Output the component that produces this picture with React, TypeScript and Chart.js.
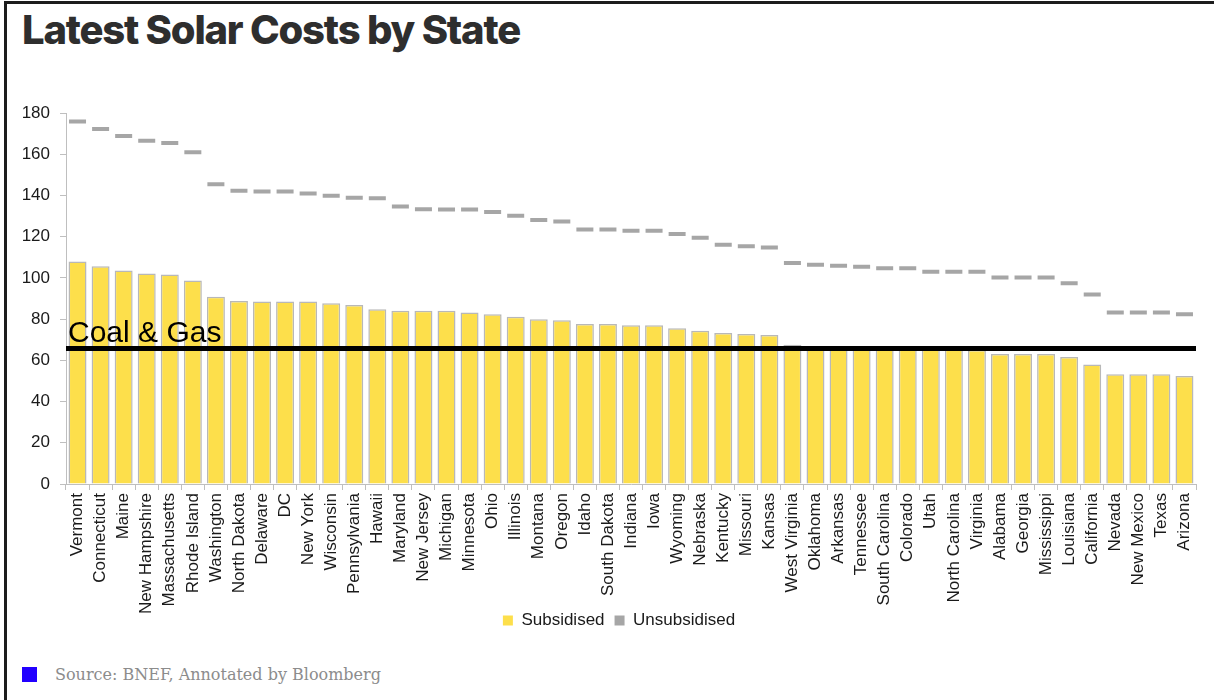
import React, { useEffect, useRef } from "react";
import { Chart, registerables } from "chart.js";

Chart.register(...registerables);

const TITLE = "Latest Solar Costs by State";
const SOURCE = "Source: BNEF, Annotated by Bloomberg";

const STATES = [
  "Vermont", "Connecticut", "Maine", "New Hampshire", "Massachusetts", "Rhode Island",
  "Washington", "North Dakota", "Delaware", "DC", "New York", "Wisconsin", "Pennsylvania",
  "Hawaii", "Maryland", "New Jersey", "Michigan", "Minnesota", "Ohio", "Illinois",
  "Montana", "Oregon", "Idaho", "South Dakota", "Indiana", "Iowa", "Wyoming", "Nebraska",
  "Kentucky", "Missouri", "Kansas", "West Virginia", "Oklahoma", "Arkansas", "Tennessee",
  "South Carolina", "Colorado", "Utah", "North Carolina", "Virginia", "Alabama", "Georgia",
  "Mississippi", "Louisiana", "California", "Nevada", "New Mexico", "Texas", "Arizona",
];

const SUBSIDISED = [
  108.0, 105.7, 103.6, 102.1, 101.6, 98.7,
  90.8, 88.8, 88.5, 88.5, 88.5, 87.7, 86.9,
  84.8, 84.0, 84.0, 84.0, 83.2, 82.4, 81.2,
  79.9, 79.4, 77.6, 77.6, 77.0, 77.0, 75.6, 74.4,
  73.3, 72.8, 72.3, 67.6, 67.0, 66.5, 66.3,
  66.0, 65.8, 65.5, 65.3, 65.0, 63.1, 63.1,
  63.1, 61.6, 58.0, 53.2, 53.2, 53.2, 52.4,
];

const UNSUBSIDISED = [
  175.9, 172.2, 168.8, 166.5, 165.4, 161.0,
  145.4, 142.3, 141.9, 141.9, 140.9, 139.8, 138.9,
  138.6, 134.6, 133.3, 133.2, 133.2, 132.0, 130.2,
  128.1, 127.3, 123.5, 123.5, 122.9, 122.9, 121.3, 119.5,
  116.1, 115.4, 114.8, 107.2, 106.4, 105.9, 105.4,
  104.7, 104.7, 103.0, 103.0, 103.0, 100.2, 100.2,
  100.2, 97.4, 91.9, 83.2, 83.2, 83.2, 82.3,
];

const COAL_GAS = [65.8];
const COAL_GAS_LABEL = "Coal & Gas";
const Y_TICKS = [0, 20, 40, 60, 80, 100, 120, 140, 160, 180];

const YELLOW = "#FDDF4B";
const GRAY = "#A6A6A6";
const FONT = "'Liberation Sans', Arial, sans-serif";

const coalGasPlugin = {
  id: "coalGas",
  afterUpdate(chart: any) {
    if (chart.legend) {
      chart.legend.left += 21;
      chart.legend.right += 21;
      chart.legend.top -= 13;
      chart.legend.bottom -= 13;
    }
  },
  afterDatasetsDraw(chart: any) {
    const { ctx, chartArea, scales } = chart;
    const y = scales.y.getPixelForValue(COAL_GAS[0]);
    ctx.save();
    ctx.strokeStyle = "#000000";
    ctx.lineWidth = 5;
    ctx.lineCap = "butt";
    ctx.beginPath();
    ctx.moveTo(chartArea.left, y);
    ctx.lineTo(chartArea.right, y);
    ctx.stroke();
    ctx.fillStyle = "#000000";
    ctx.font = `30px ${FONT}`;
    ctx.textAlign = "left";
    ctx.textBaseline = "alphabetic";
    ctx.fillText(COAL_GAS_LABEL, chartArea.left + 2, y - 6);
    ctx.restore();
  },
};

export default function App() {
  const canvasRef = useRef<HTMLCanvasElement | null>(null);

  useEffect(() => {
    document.body.style.margin = "0";
    const canvas = canvasRef.current;
    if (!canvas) return;
    const chart = new Chart(canvas, {
      type: "bar",
      data: {
        labels: STATES,
        datasets: [
          {
            type: "bar",
            label: "Subsidised",
            data: SUBSIDISED,
            backgroundColor: YELLOW,
            borderColor: "#B8B8B8",
            borderWidth: 1.5,
            barPercentage: 0.78,
            categoryPercentage: 1,
            order: 2,
          },
          {
            type: "line",
            label: "Unsubsidised",
            data: UNSUBSIDISED,
            showLine: false,
            pointStyle: "line",
            pointRadius: 8.5,
            pointHoverRadius: 8.5,
            pointBorderWidth: 4,
            pointBorderColor: GRAY,
            pointBackgroundColor: GRAY,
            borderColor: GRAY,
            backgroundColor: GRAY,
            order: 1,
          } as any,
        ],
      },
      options: {
        responsive: false,
        animation: false,
        maintainAspectRatio: false,
        layout: { padding: { top: 23, right: 18, left: 0, bottom: 3 } },
        plugins: {
          legend: {
            position: "bottom",
            labels: {
              boxWidth: 10,
              boxHeight: 10,
              padding: 10,
              color: "#1a1a1a",
              font: { family: FONT, size: 17 },
              generateLabels: (c: any) =>
                c.data.datasets.map((ds: any, i: number) => ({
                  text: ds.label,
                  fillStyle: i === 0 ? YELLOW : GRAY,
                  strokeStyle: i === 0 ? "#E8CC40" : GRAY,
                  lineWidth: 0,
                  hidden: false,
                  datasetIndex: i,
                  fontColor: "#1a1a1a",
                })),
            },
          },
          tooltip: { enabled: false },
        },
        scales: {
          x: {
            offset: true,
            grid: {
              offset: true,
              drawOnChartArea: false,
              drawTicks: true,
              tickLength: 6,
              color: "#BFBFBF",
            },
            border: { color: "#BFBFBF", width: 1 },
            ticks: {
              autoSkip: false,
              maxRotation: 90,
              minRotation: 90,
              padding: 3,
              color: "#1a1a1a",
              font: { family: FONT, size: 17 },
            },
            afterFit: (s: any) => {
              s.height = 131;
            },
          },
          y: {
            min: 0,
            max: 180,
            afterBuildTicks: (s: any) => {
              s.ticks = Y_TICKS.map((v) => ({ value: v }));
            },
            grid: {
              drawOnChartArea: false,
              drawTicks: true,
              tickLength: 6,
              color: "#BFBFBF",
            },
            border: { color: "#BFBFBF", width: 1 },
            ticks: {
              padding: 10,
              color: "#1a1a1a",
              font: { family: FONT, size: 17 },
            },
            afterFit: (s: any) => {
              s.width = 66;
            },
          },
        },
      },
      plugins: [coalGasPlugin],
    });
    return () => chart.destroy();
  }, []);

  return (
    <div
      style={{
        position: "fixed",
        left: 0,
        top: 0,
        width: 1214,
        height: 700,
        background: "#ffffff",
        overflow: "hidden",
      }}
    >
      <div style={{ position: "absolute", left: 4, top: 1, width: 1210, height: 3, background: "#1c1c1c" }} />
      <div style={{ position: "absolute", left: 4, top: 1, width: 3, height: 699, background: "#1c1c1c" }} />
      <div
        style={{
          position: "absolute",
          left: 22,
          top: 10,
          fontFamily: "Inter, 'Liberation Sans', sans-serif",
          fontWeight: 800,
          fontSize: 40,
          lineHeight: "40px",
          letterSpacing: "-1.2px",
          color: "#2e2e2e",
          whiteSpace: "nowrap",
        }}
      >
        {TITLE}
      </div>
      <canvas
        ref={canvasRef}
        width={1214}
        height={565}
        style={{ position: "absolute", left: 0, top: 90, width: 1214, height: 565 }}
      />
      <div style={{ position: "absolute", left: 22, top: 667, width: 15, height: 15, background: "#2200FF" }} />
      <div
        style={{
          position: "absolute",
          left: 55,
          top: 664,
          fontFamily: "'DejaVu Serif', Georgia, serif",
          fontSize: 16,
          lineHeight: "22px",
          color: "#8c8c8c",
          whiteSpace: "nowrap",
        }}
      >
        {SOURCE}
      </div>
    </div>
  );
}
